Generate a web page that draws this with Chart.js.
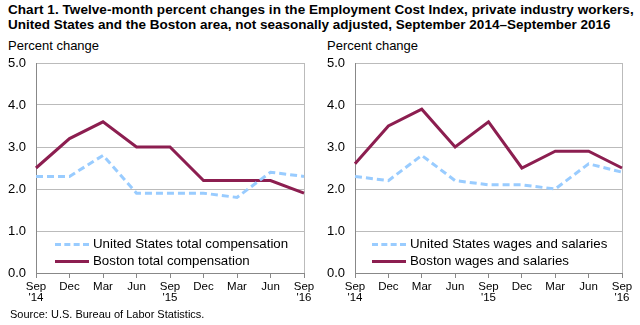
<!DOCTYPE html>
<html>
<head>
<meta charset="utf-8">
<script src="https://cdn.jsdelivr.net/npm/chart.js@4"></script>
<style>
  body { margin: 0; width: 640px; height: 325px; background: #fff; position: relative; overflow: hidden; font-family: "Liberation Sans", Arial, sans-serif; }
  .title { position: absolute; left: 8px; top: 3px; font-weight: bold; font-size: 13.5px; line-height: 14.5px; color: #000; white-space: nowrap; }
  .ylab { position: absolute; top: 38px; font-size: 13px; color: #000; }
  .source { position: absolute; left: 10px; top: 308px; font-size: 11px; color: #000; }
  .wrap { position: absolute; top: 50px; width: 320px; height: 260px; }
  .legend { position: absolute; font-size: 13.3px; color: #000; white-space: nowrap; }
  .legend div { height: 17px; line-height: 17px; }
  .legend span.ln { display: inline-block; width: 34px; vertical-align: middle; margin-right: 4px; }
</style>
</head>
<body>
<div class="title"><span style="letter-spacing:0.06px">Chart 1. Twelve-month percent changes in the Employment Cost Index, private industry workers,</span><br>United States and the Boston area, not seasonally adjusted, September 2014&ndash;September 2016</div>
<div class="ylab" style="left:8px">Percent change</div>
<div class="ylab" style="left:327px">Percent change</div>

<div class="wrap" style="left:0px"><canvas id="left"></canvas></div>
<div class="wrap" style="left:320px"><canvas id="right"></canvas></div>

<div class="legend" style="left:55px; top:235px">
  <div><span class="ln" style="border-top:3px dashed #99ccff"></span>United States total compensation</div>
  <div><span class="ln" style="border-top:3px solid #8c1e50"></span>Boston total compensation</div>
</div>
<div class="legend" style="left:372px; top:235px">
  <div><span class="ln" style="border-top:3px dashed #99ccff"></span>United States wages and salaries</div>
  <div><span class="ln" style="border-top:3px solid #8c1e50"></span>Boston wages and salaries</div>
</div>

<div class="source">Source: U.S. Bureau of Labor Statistics.</div>

<script>
let quarters = [["Sep", "'14"], "Dec", "Mar", "Jun", ["Sep", "'15"], "Dec", "Mar", "Jun", ["Sep", "'16"]];
let yTicks = [0, 1, 2, 3, 4, 5];

let usTotalComp = [2.3, 2.3, 2.8, 1.9, 1.9, 1.9, 1.8, 2.4, 2.3];
let bostonTotalComp = [2.5, 3.2, 3.6, 3.0, 3.0, 2.2, 2.2, 2.2, 1.9];
let usWages = [2.3, 2.2, 2.8, 2.2, 2.1, 2.1, 2.0, 2.6, 2.4];
let bostonWages = [2.6, 3.5, 3.9, 3.0, 3.6, 2.5, 2.9, 2.9, 2.5];

const blue = '#99ccff';
const maroon = '#8c1e50';

function makeChart(id, usData, bostonData, usLabel, bostonLabel, yWidth, padRight) {
    const ctx = document.getElementById(id).getContext('2d');
    return new Chart(ctx, {
        type: 'line',
        data: {
            labels: quarters,
            datasets: [{
                label: usLabel,
                data: usData,
                borderColor: blue,
                borderWidth: 3,
                borderDash: [7, 4],
                pointRadius: 0,
                tension: 0
            }, {
                label: bostonLabel,
                data: bostonData,
                borderColor: maroon,
                borderWidth: 3,
                pointRadius: 0,
                tension: 0
            }]
        },
        options: {
            responsive: true,
            maintainAspectRatio: false,
            animation: false,
            layout: { padding: { top: 13, right: padRight, left: 0, bottom: 0 } },
            plugins: { legend: { display: false }, tooltip: { enabled: false } },
            scales: {
                x: {
                    offset: false,
                    grid: {
                        // only the last gridline shows, as the dotted right border
                        color: c => c.index === quarters.length - 1 ? '#bbbbbb' : 'transparent',
                        borderDash: [1, 2],
                        tickColor: '#888888',
                        tickLength: 5,
                        drawTicks: true
                    },
                    border: { color: '#888888', width: 1 },
                    ticks: {
                        color: '#000',
                        font: { family: 'Liberation Sans', size: 11.5, lineHeight: 1.0 },
                        maxRotation: 0,
                        autoSkip: false,
                        padding: 3
                    },
                    afterFit: s => { s.height = 37; s.paddingTop = 0; }
                },
                y: {
                    min: yTicks[0],
                    max: yTicks[yTicks.length - 1],
                    afterBuildTicks: s => { s.ticks = yTicks.map(v => ({ value: v })); },
                    grid: { color: '#bbbbbb', borderDash: [1, 2], drawTicks: false },
                    border: { color: '#888888', width: 1 },
                    ticks: {
                        color: '#000',
                        font: { family: 'Liberation Sans', size: 13 },
                        padding: 10,
                        callback: v => v.toFixed(1)
                    },
                    afterFit: s => { s.width = yWidth; s.paddingTop = 0; s.paddingBottom = 0; }
                }
            }
        }
    });
}

makeChart('left', usTotalComp, bostonTotalComp, 'United States total compensation', 'Boston total compensation', 36, 16);
makeChart('right', usWages, bostonWages, 'United States wages and salaries', 'Boston wages and salaries', 35, 18);
</script>
</body>
</html>
